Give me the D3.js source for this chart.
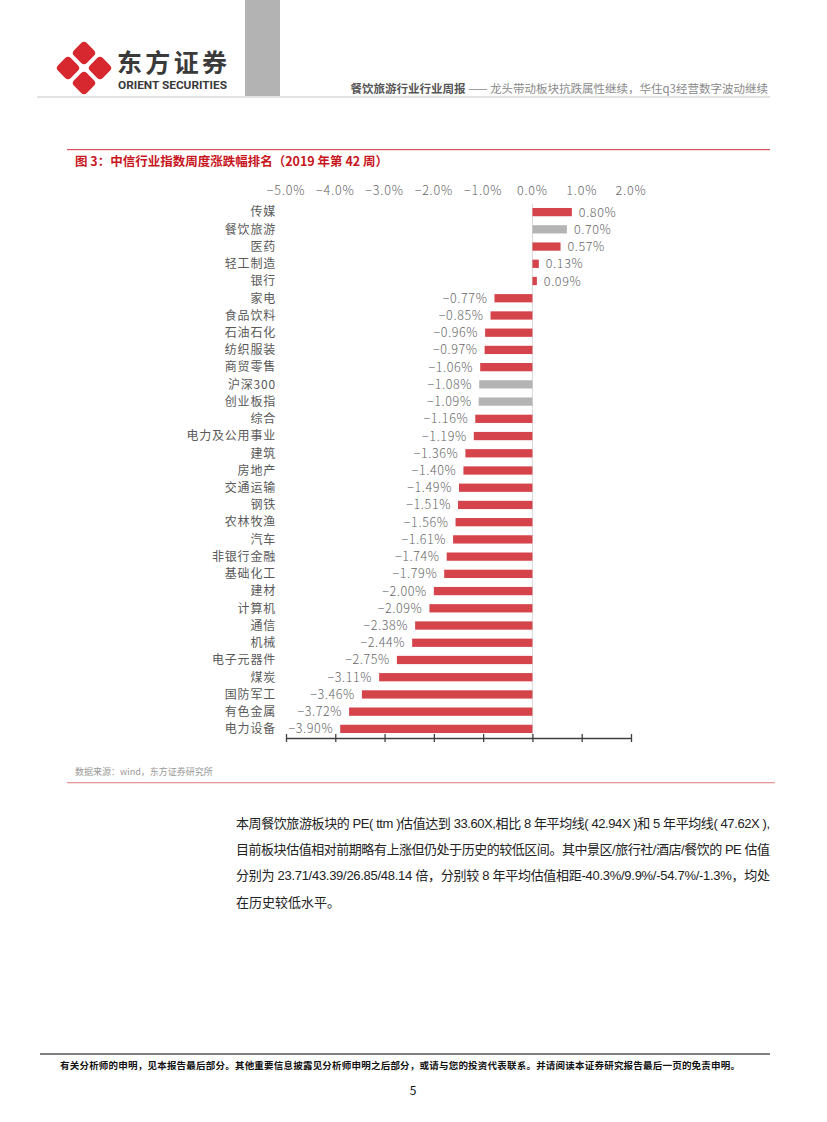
<!DOCTYPE html>
<html>
<head>
<meta charset="utf-8">
<script src="https://cdn.jsdelivr.net/npm/d3@7"></script>
<style>
  body { margin: 0; background: #fff; }
  text { font-family: "Noto Sans CJK SC", "Noto Sans", sans-serif; }
</style>
</head>
<body>
<div id="page"></div>
<script>
// categories and weekly change (%)
var categories = ["传媒","餐饮旅游","医药","轻工制造","银行","家电","食品饮料","石油石化","纺织服装","商贸零售",
  "沪深300","创业板指","综合","电力及公用事业","建筑","房地产","交通运输","钢铁","农林牧渔","汽车",
  "非银行金融","基础化工","建材","计算机","通信","机械","电子元器件","煤炭","国防军工","有色金属","电力设备"];
var values = [0.80,0.70,0.57,0.13,0.09,-0.77,-0.85,-0.96,-0.97,-1.06,
  -1.08,-1.09,-1.16,-1.19,-1.36,-1.40,-1.49,-1.51,-1.56,-1.61,
  -1.74,-1.79,-2.00,-2.09,-2.38,-2.44,-2.75,-3.11,-3.46,-3.72,-3.90];
// highlighted (grey) rows
var highlight = ["餐饮旅游","沪深300","创业板指"];
var tickValues = [-5,-4,-3,-2,-1,0,1,2];

var data = categories.map(function(c, i){ return {name: c, value: values[i]}; });

var svg = d3.select("#page").append("svg")
  .attr("width", 827).attr("height", 1122);

// ---------- page header ----------
svg.append("rect").attr("x", 245).attr("y", 0).attr("width", 35).attr("height", 97).attr("fill", "#b3b3b3");
svg.append("rect").attr("x", 37).attr("y", 96).attr("width", 733).attr("height", 2).attr("fill", "#e3e3e3");

// logo: four red petals
var logo = svg.append("g").attr("transform", "translate(84,68)");
[[0,-15],[-16,0],[16,0],[0,15]].forEach(function(p){
  logo.append("rect")
    .attr("x", -9).attr("y", -9).attr("width", 18).attr("height", 18).attr("rx", 4)
    .attr("fill", "#d7282f")
    .attr("transform", "translate(" + p[0] + "," + p[1] + ") rotate(45)");
});
svg.append("text").attr("x", 117).attr("y", 72).text("东方证券")
  .attr("textLength", 110).attr("lengthAdjust", "spacing")
  .style("font-size", "25px").style("font-weight", "bold").attr("fill", "#3a3a3a");
svg.append("text").attr("x", 118).attr("y", 89).text("ORIENT SECURITIES")
  .attr("textLength", 109).attr("lengthAdjust", "spacingAndGlyphs")
  .style("font-size", "11px").style("font-weight", "bold").attr("fill", "#3a3a3a")
  .style("font-family", "Roboto, sans-serif");

var hdr = svg.append("text").attr("x", 768).attr("y", 93).attr("text-anchor", "end")
  .style("font-size", "11.5px");
hdr.append("tspan").text("餐饮旅游行业行业周报").attr("fill", "#555").style("font-weight", "bold");
hdr.append("tspan").text(" —— 龙头带动板块抗跌属性继续，华住q3经营数字波动继续").attr("fill", "#8a8a8a");

// ---------- figure title ----------
svg.append("rect").attr("x", 67).attr("y", 149).attr("width", 703).attr("height", 1.2).attr("fill", "#d9545a");
svg.append("text").attr("x", 75).attr("y", 166)
  .text("图 3：中信行业指数周度涨跌幅排名（2019 年第 42 周）")
  .style("font-size", "12.5px").style("font-weight", "bold").attr("fill", "#c8161d");

// ---------- chart ----------
var x = d3.scaleLinear().domain([-5, 2]).range([286, 631]);
var y = d3.scaleBand().domain(categories).range([203.5, 737.5]).paddingInner(0.52).paddingOuter(0.26);
var fmt = d3.format(".2%");
var fmtTick = d3.format(".1%");

var chart = svg.append("g");

// top tick labels
chart.selectAll(".tl").data(tickValues).enter().append("text")
  .attr("x", function(d){ return x(d); })
  .attr("y", 195)
  .attr("text-anchor", "middle")
  .style("font-size", "12.5px").style("font-weight", "300").style("letter-spacing", "0.8px")
  .attr("fill", "#666")
  .text(function(d){ return fmtTick(d / 100); });

// zero line
chart.append("line")
  .attr("x1", x(0)).attr("x2", x(0)).attr("y1", 204).attr("y2", 738)
  .attr("stroke", "#d9d9d9").attr("stroke-width", 1);

// bars
chart.selectAll(".bar").data(data).enter().append("rect")
  .attr("x", function(d){ return x(Math.min(0, d.value)); })
  .attr("y", function(d){ return y(d.name); })
  .attr("width", function(d){ return Math.abs(x(d.value) - x(0)); })
  .attr("height", y.bandwidth())
  .attr("fill", function(d){ return highlight.indexOf(d.name) >= 0 ? "#b4b4b4" : "#d5444b"; });

// value labels
chart.selectAll(".vl").data(data).enter().append("text")
  .attr("x", function(d){ return d.value >= 0 ? x(d.value) + 7 : x(d.value) - 7; })
  .attr("y", function(d){ return y(d.name) + y.bandwidth() / 2; })
  .attr("dy", "0.36em")
  .attr("text-anchor", function(d){ return d.value >= 0 ? "start" : "end"; })
  .style("font-size", "12.5px").style("font-weight", "300").style("letter-spacing", "0.6px")
  .attr("fill", "#666")
  .text(function(d){ return fmt(d.value / 100); });

// category labels
chart.selectAll(".cl").data(data).enter().append("text")
  .attr("x", 276)
  .attr("y", function(d){ return y(d.name) + y.bandwidth() / 2; })
  .attr("dy", "0.36em")
  .attr("text-anchor", "end")
  .style("font-size", "12px").style("letter-spacing", "0.8px")
  .attr("fill", "#595959")
  .text(function(d){ return d.name; });

// bottom axis with crossing ticks
var axis = chart.append("g").attr("transform", "translate(0,738)")
  .call(d3.axisBottom(x).tickValues(tickValues).tickSize(4).tickSizeOuter(0).tickFormat(""));
axis.select(".domain").attr("stroke", "#404040").attr("stroke-width", 1.3);
axis.selectAll(".tick line").attr("y1", -4).attr("stroke", "#404040").attr("stroke-width", 1.3);

// ---------- source ----------
svg.append("text").attr("x", 75).attr("y", 775).text("数据来源：wind，东方证券研究所")
  .style("font-size", "9px").attr("fill", "#999");
svg.append("rect").attr("x", 67).attr("y", 782).attr("width", 708).attr("height", 1.3).attr("fill", "#e49a9c");

// ---------- body text ----------
var body = [
  "本周餐饮旅游板块的 PE( ttm )估值达到 33.60X,相比 8 年平均线( 42.94X )和 5 年平均线( 47.62X ),",
  "目前板块估值相对前期略有上涨但仍处于历史的较低区间。其中景区/旅行社/酒店/餐饮的 PE 估值",
  "分别为 23.71/43.39/26.85/48.14 倍，分别较 8 年平均估值相距-40.3%/9.9%/-54.7%/-1.3%，均处",
  "在历史较低水平。"
];
body.forEach(function(t, i){
  var el = svg.append("text").attr("x", 236).attr("y", 828 + i * 26.2)
    .style("font-size", "13px").attr("fill", "#222")
    .style("font-family", "'Liberation Sans', 'Noto Sans CJK SC', sans-serif")
    .text(t);
  if (i < 3) el.attr("textLength", 534).attr("lengthAdjust", "spacing");
});

// ---------- footer ----------
svg.append("rect").attr("x", 40).attr("y", 1053).attr("width", 730).attr("height", 2).attr("fill", "#7f7f7f");
svg.append("text").attr("x", 60).attr("y", 1069)
  .text("有关分析师的申明，见本报告最后部分。其他重要信息披露见分析师申明之后部分，或请与您的投资代表联系。并请阅读本证券研究报告最后一页的免责申明。")
  .attr("textLength", 680).attr("lengthAdjust", "spacing")
  .style("font-size", "9.5px").style("font-weight", "bold").attr("fill", "#111");
svg.append("text").attr("x", 413).attr("y", 1095).attr("text-anchor", "middle").text("5")
  .style("font-size", "12px").attr("fill", "#111");
</script>
</body>
</html>
